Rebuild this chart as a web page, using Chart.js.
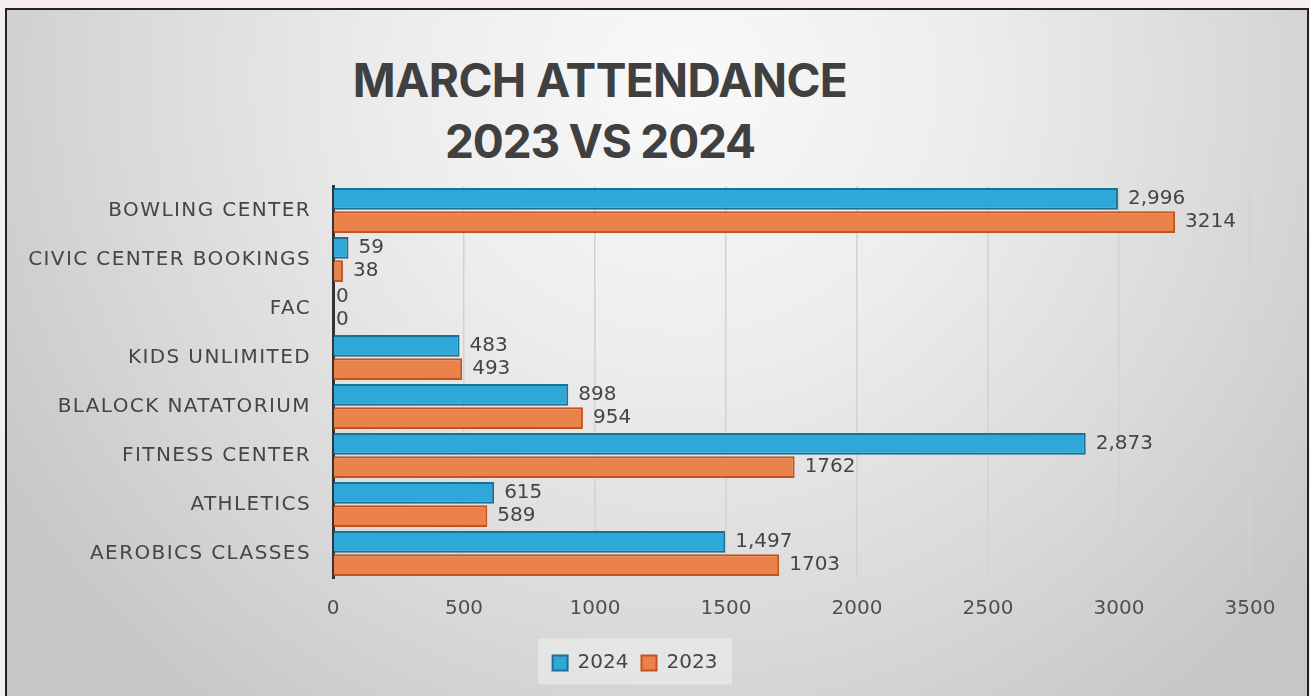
<!DOCTYPE html>
<html lang="en">
<head>
  <meta charset="UTF-8">
  <title>March Attendance 2023 vs 2024</title>
  <script src="https://cdn.jsdelivr.net/npm/chart.js"></script>
  <style>
    html, body { margin: 0; padding: 0; background: #f4eeef; width: 1310px; height: 696px; overflow: hidden; }
    .frame { position: absolute; left: 5px; top: 8px; width: 1300px; height: 700px; border: 2px solid #222;
             background: radial-gradient(ellipse 62% 115% at 52% 10%, #f9f9f9 0%, #ededed 35%, #d9d9d9 70%, #c6c6c6 100%); }
    .title { position: absolute; left: 0; top: 50px; width: 1200px; text-align: center; font-family: Inter, sans-serif;
             font-weight: 700; font-size: 46px; line-height: 61px; color: #404040; letter-spacing: -0.6px; }
    .title span { letter-spacing: -1.2px; }
    canvas { position: absolute; left: 0; top: 0; }
  </style>
</head>
<body>
  <div class="frame"></div>
  <div class="title">MARCH ATTENDANCE<br><span>2023 VS 2024</span></div>
  <canvas id="chart" width="1310" height="696"></canvas>

  <script>
    const categories = ["BOWLING CENTER", "CIVIC CENTER BOOKINGS", "FAC", "KIDS UNLIMITED",
      "BLALOCK NATATORIUM", "FITNESS CENTER", "ATHLETICS", "AEROBICS CLASSES"];
    const values2024 = [2996, 59, 0, 483, 898, 2873, 615, 1497];
    const values2023 = [3214, 38, 0, 493, 954, 1762, 589, 1703];
    const xTicks = [0, 500, 1000, 1500, 2000, 2500, 3000, 3500];

    const FONT = '"DejaVu Sans", sans-serif';

    // 2024 labels show thousands separators, 2023 labels don't (as in the original)
    const fmt = (ds, v) => ds === 0 ? v.toLocaleString('en-US') : String(v);

    const barLabels = {
      id: 'barLabels',
      afterDatasetsDraw(chart) {
        const { ctx } = chart;
        ctx.save();
        ctx.font = '20px ' + FONT;
        ctx.fillStyle = '#454545';
        ctx.textBaseline = 'middle';
        chart.data.datasets.forEach((ds, i) => {
          chart.getDatasetMeta(i).data.forEach((bar, j) => {
            ctx.fillText(fmt(i, ds.data[j]), bar.x + (ds.data[j] === 0 ? 3 : 10), bar.y);
          });
        });
        ctx.restore();
      }
    };

    // category labels drawn at the y scale's positions, with a bit of tracking like the original
    const categoryLabels = {
      id: 'categoryLabels',
      afterDraw(chart) {
        const { ctx } = chart;
        const y = chart.scales.y;
        ctx.save();
        ctx.font = '20px ' + FONT;
        ctx.fillStyle = '#454545';
        ctx.textAlign = 'right';
        ctx.textBaseline = 'middle';
        ctx.letterSpacing = '1.4px';
        categories.forEach((c, i) => ctx.fillText(c, y.right - 22, y.getPixelForValue(i)));
        ctx.restore();
      }
    };

    const legendBox = {
      id: 'legendBox',
      beforeDraw(chart) {
        const l = chart.legend;
        if (!l) return;
        const { ctx } = chart;
        const w = 194, h = 46, cx = (l.left + l.right) / 2, cy = (l.top + l.bottom) / 2;
        ctx.save();
        ctx.fillStyle = 'rgba(240,240,240,0.55)';
        ctx.fillRect(cx - w / 2, cy - h / 2, w, h);
        ctx.restore();
      }
    };

    new Chart(document.getElementById('chart'), {
      type: 'bar',
      data: {
        labels: categories,
        datasets: [
          { label: '2024', data: values2024, backgroundColor: '#2ea7d9', borderColor: '#1c6f95', borderWidth: 2,
            categoryPercentage: 0.95, barPercentage: 0.94 },
          { label: '2023', data: values2023, backgroundColor: '#e9834b', borderColor: '#c4521e', borderWidth: 2,
            categoryPercentage: 0.95, barPercentage: 0.94 }
        ]
      },
      options: {
        indexAxis: 'y',
        responsive: false,
        animation: false,
        layout: { padding: { left: 20, right: 60, top: 186, bottom: 13 } },
        plugins: {
          title: { display: false },
          tooltip: { enabled: false },
          legend: {
            position: 'bottom',
            labels: {
              boxWidth: 15, boxHeight: 15, padding: 13,
              font: { family: FONT, size: 20 }, color: '#454545'
            }
          }
        },
        scales: {
          x: {
            min: 0, max: 3500,
            afterBuildTicks: s => { s.ticks = xTicks.map(v => ({ value: v })); },
            grid: { color: '#d2d2d2', lineWidth: 1.5, drawTicks: false },
            border: { display: false },
            ticks: { padding: 19, color: '#505050', font: { family: FONT, size: 20 }, callback: v => String(v) }
          },
          y: {
            grid: { display: false, drawTicks: false },
            border: { color: '#333', width: 3 },
            afterFit: s => { s.width = 313; },
            ticks: { display: false }
          }
        }
      },
      plugins: [barLabels, categoryLabels, legendBox]
    });
  </script>
</body>
</html>
